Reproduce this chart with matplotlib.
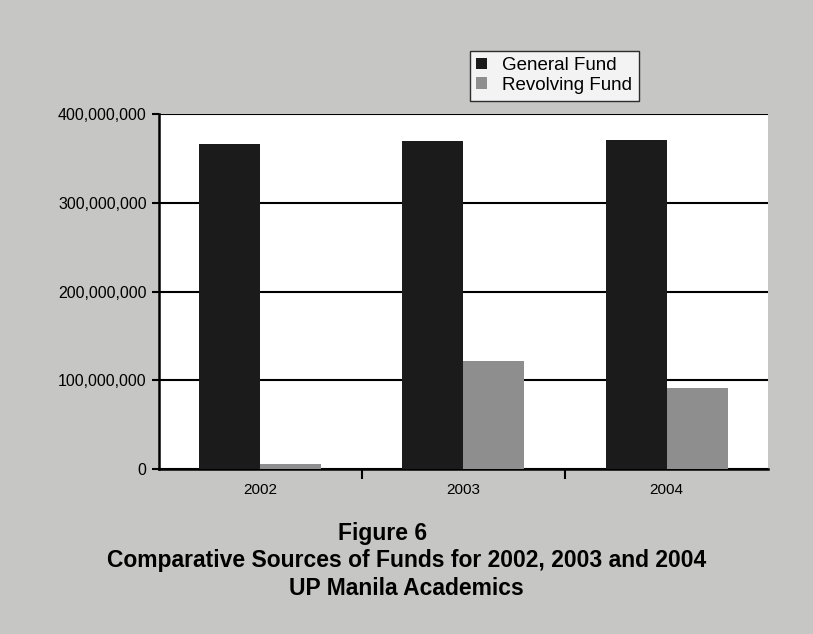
import matplotlib.pyplot as plt
import numpy as np

plt.rcParams['font.family'] = ['Liberation Sans', 'DejaVu Sans']

years = ["2002", "2003", "2004"]
general_fund = [366000000, 370000000, 371000000]
revolving_fund = [6000000, 122000000, 91000000]
y_ticks = [0, 100000000, 200000000, 300000000, 400000000]
y_tick_labels = ["0", "100,000,000", "200,000,000", "300,000,000", "400,000,000"]


def main():
    fig = plt.figure(figsize=(8.13, 6.34), dpi=100, facecolor="#c6c6c4")
    ax = fig.add_axes([0.195, 0.26, 0.75, 0.56])
    ax.set_facecolor("white")

    x = np.arange(len(years))
    w = 0.3
    ax.bar(x - w / 2, general_fund, w, color="#1b1b1b", label="General Fund", zorder=3)
    ax.bar(x + w / 2, revolving_fund, w, color="#8e8e8e", label="Revolving Fund", zorder=3)

    ax.set_xlim(-0.5, 2.5)
    ax.set_ylim(0, 400000000)
    ax.set_yticks(y_ticks)
    ax.set_yticklabels(y_tick_labels, fontsize=11.5)
    ax.yaxis.grid(True, color="black", linewidth=1.5, zorder=1)

    # year labels at group centres, tick marks between groups
    ax.set_xticks(x)
    ax.set_xticklabels(years, fontsize=11)
    ax.tick_params(axis="x", length=0, pad=10)
    ax.set_xticks([0.5, 1.5], minor=True)
    ax.tick_params(axis="x", which="minor", length=7, width=1.5, direction="out")
    ax.tick_params(axis="y", length=5, width=1.5)

    for s in ["top", "right"]:
        ax.spines[s].set_visible(False)
    for s in ["left", "bottom"]:
        ax.spines[s].set_linewidth(1.8)

    leg = fig.legend(loc="upper left", bbox_to_anchor=(0.566, 0.935), fontsize=13.5,
                     handlelength=0.6, handleheight=0.6, handletextpad=0.8,
                     frameon=True, fancybox=False, borderpad=0.35, labelspacing=0.15)
    leg.get_frame().set_edgecolor("black")
    leg.get_frame().set_linewidth(1.0)
    leg.get_frame().set_facecolor("white")

    fig.text(0.47, 0.148, "Figure 6", ha="center", fontsize=16.5, fontweight="bold")
    fig.text(0.5, 0.105, "Comparative Sources of Funds for 2002, 2003 and 2004",
             ha="center", fontsize=16.5, fontweight="bold")
    fig.text(0.5, 0.062, "UP Manila Academics", ha="center", fontsize=16.5, fontweight="bold")

    fig.savefig("out.png", dpi=100, facecolor=fig.get_facecolor())


main()
